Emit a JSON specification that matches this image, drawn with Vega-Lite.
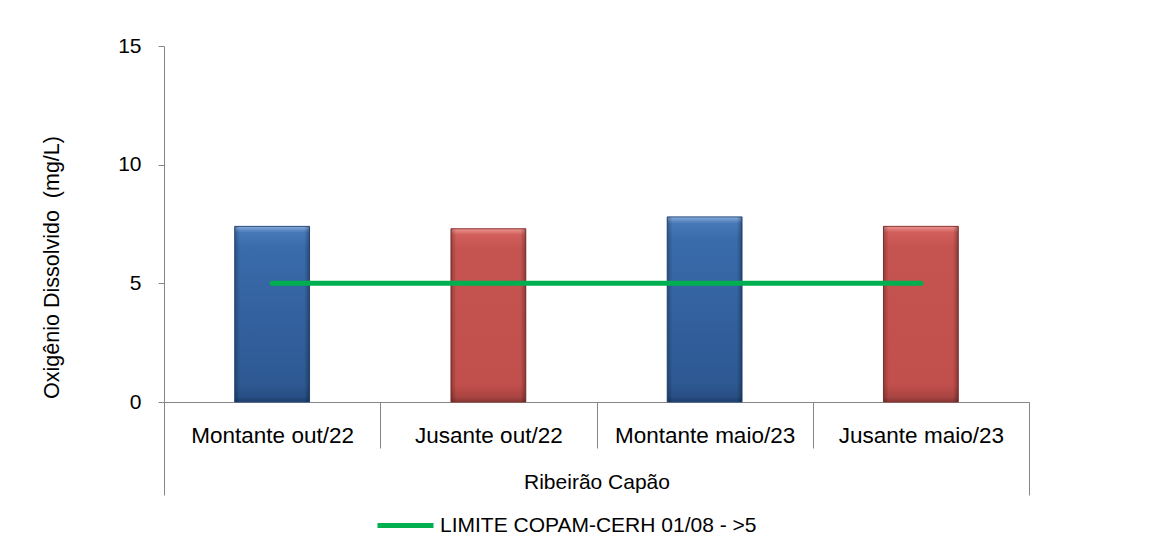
{
  "$schema": "https://vega.github.io/schema/vega-lite/v6.json",
  "width": 865,
  "height": 356,
  "autosize": {"type": "none"},
  "padding": {"left": 164, "top": 46, "right": 135, "bottom": 136},
  "background": "white",
  "config": {
    "view": {"stroke": null},
    "font": "Liberation Sans",
    "axis": {
      "domainColor": "#868686",
      "tickColor": "#868686",
      "labelColor": "#000000",
      "titleColor": "#000000",
      "labelFontSize": 21,
      "titleFontSize": 21.5,
      "titleFontWeight": "normal",
      "grid": false
    }
  },
  "datasets": {
    "medicoes": [
      {"ponto": "Montante out/22", "tipo": "Montante", "od": 7.4},
      {"ponto": "Jusante out/22", "tipo": "Jusante", "od": 7.3},
      {"ponto": "Montante maio/23", "tipo": "Montante", "od": 7.8},
      {"ponto": "Jusante maio/23", "tipo": "Jusante", "od": 7.4}
    ],
    "limite": [
      {"ponto": "Montante out/22", "limite": 5, "serie": "LIMITE COPAM-CERH 01/08 - >5"},
      {"ponto": "Jusante out/22", "limite": 5, "serie": "LIMITE COPAM-CERH 01/08 - >5"},
      {"ponto": "Montante maio/23", "limite": 5, "serie": "LIMITE COPAM-CERH 01/08 - >5"},
      {"ponto": "Jusante maio/23", "limite": 5, "serie": "LIMITE COPAM-CERH 01/08 - >5"}
    ],
    "grupo": [{"grupo": "Ribeirão Capão"}]
  },
  "layer": [
    {
      "encoding": {
        "x": {
          "field": "ponto",
          "type": "nominal",
          "sort": ["Montante out/22", "Jusante out/22", "Montante maio/23", "Jusante maio/23"],
          "scale": {"paddingInner": 0, "paddingOuter": 0},
          "axis": {
            "title": null,
            "orient": "bottom",
            "labelAngle": 0,
            "labelFontSize": 22.5,
            "labelLimit": 0,
            "tickBand": "extent",
            "tickSize": 46,
            "labelPadding": -24,
            "labelBaseline": "top"
          }
        }
      },
      "layer": [
        {
          "data": {"name": "medicoes"},
          "transform": [{"filter": "datum.tipo === 'Montante'"}],
          "mark": {
            "type": "bar",
            "width": {"band": 0.346},
            "stroke": "#2A4F84",
            "strokeWidth": 1,
            "color": {
              "gradient": "linear", "x1": 0, "y1": 0, "x2": 0, "y2": 1,
              "stops": [
                {"offset": 0, "color": "#8DB3E2"},
                {"offset": 0.035, "color": "#4A7DBF"},
                {"offset": 0.12, "color": "#3C6FB2"},
                {"offset": 0.9, "color": "#2F5C98"},
                {"offset": 0.97, "color": "#2A528A"},
                {"offset": 1, "color": "#1F3F6E"}
              ]
            }
          },
          "encoding": {
            "y": {
              "field": "od",
              "type": "quantitative",
              "scale": {"domain": [0, 15], "nice": false},
              "axis": {
                "values": [0, 5, 10, 15],
                "tickSize": 6,
                "labelPadding": 17,
                "title": "Oxigênio Dissolvido\u00a0 (mg/L)",
                "titleAngle": -90,
                "titleX": -106,
                "titleY": 221,
                "titleAlign": "center",
                "titleBaseline": "alphabetic"
              }
            }
          }
        },
        {
          "data": {"name": "medicoes"},
          "transform": [{"filter": "datum.tipo === 'Jusante'"}],
          "mark": {
            "type": "bar",
            "width": {"band": 0.346},
            "stroke": "#8E3835",
            "strokeWidth": 1,
            "color": {
              "gradient": "linear", "x1": 0, "y1": 0, "x2": 0, "y2": 1,
              "stops": [
                {"offset": 0, "color": "#F59A97"},
                {"offset": 0.035, "color": "#D9625E"},
                {"offset": 0.12, "color": "#CD5753"},
                {"offset": 0.9, "color": "#C9524E"},
                {"offset": 0.97, "color": "#B04744"},
                {"offset": 1, "color": "#8E3835"}
              ]
            }
          },
          "encoding": {
            "y": {"field": "od", "type": "quantitative"}
          }
        },
        {
          "data": {"name": "medicoes"},
          "mark": {
            "type": "bar",
            "width": {"band": 0.346},
            "color": {
              "gradient": "linear", "x1": 0, "y1": 0, "x2": 1, "y2": 0,
              "stops": [
                {"offset": 0, "color": "rgba(0,0,0,0.28)"},
                {"offset": 0.07, "color": "rgba(0,0,0,0.04)"},
                {"offset": 0.93, "color": "rgba(0,0,0,0.04)"},
                {"offset": 1, "color": "rgba(0,0,0,0.32)"}
              ]
            }
          },
          "encoding": {
            "y": {"field": "od", "type": "quantitative"}
          }
        },
        {
          "data": {"name": "limite"},
          "mark": {"type": "line", "strokeWidth": 5, "strokeCap": "round"},
          "encoding": {
            "y": {"field": "limite", "type": "quantitative"},
            "color": {
              "field": "serie",
              "type": "nominal",
              "scale": {"range": ["#00B050"]},
              "legend": {
                "orient": "none",
                "legendX": 211,
                "legendY": 449,
                "title": null,
                "symbolType": "stroke",
                "symbolSize": 3136,
                "symbolStrokeWidth": 5,
                "labelFontSize": 21,
                "labelOffset": 4,
                "labelLimit": 0,
                "labelColor": "#000000",
                "padding": 0
              }
            }
          }
        }
      ]
    },
    {
      "data": {"name": "grupo"},
      "mark": {"type": "point", "opacity": 0},
      "encoding": {
        "x": {
          "field": "grupo",
          "type": "nominal",
          "scale": {"type": "band", "paddingInner": 0, "paddingOuter": 0},
          "axis": {
            "title": null,
            "orient": "bottom",
            "domain": false,
            "labelAngle": 0,
            "tickBand": "extent",
            "tickSize": 93,
            "labelPadding": -24,
            "labelBaseline": "top",
            "labelLimit": 0
          }
        }
      }
    }
  ],
  "resolve": {"scale": {"x": "independent"}, "axis": {"x": "independent"}}
}
